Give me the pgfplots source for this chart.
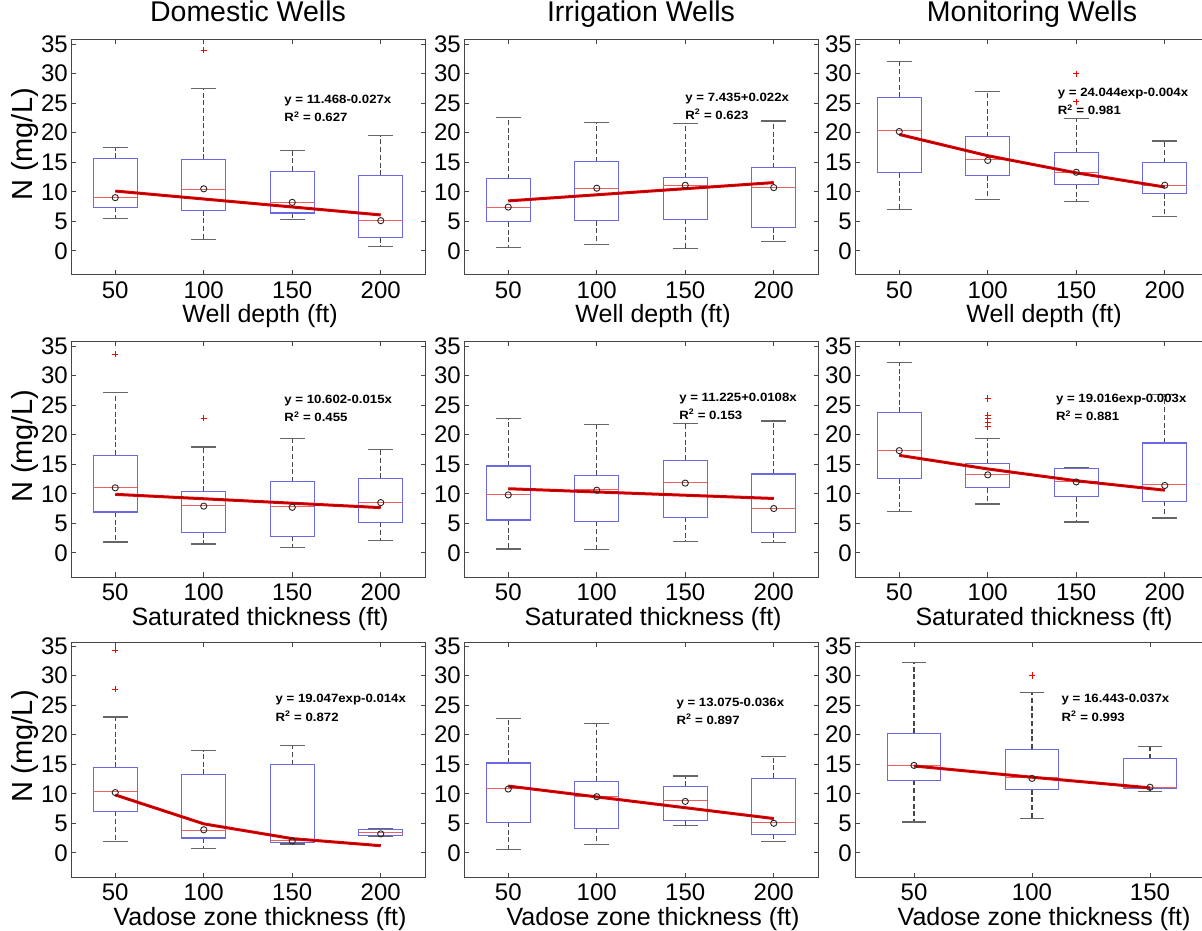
\documentclass[border=0pt]{standalone}
\usepackage{fontspec}
\setmainfont{Liberation Sans}
\newfontfamily\eqfam[FakeStretch=1.1]{Liberation Sans}
\usepackage{pgfplots}
\pgfplotsset{compat=1.18}
\usepgfplotslibrary{statistics}
\definecolor{boxcol}{RGB}{105,105,225}
\definecolor{medcol}{RGB}{235,95,95}
\definecolor{regcol}{RGB}{228,0,0}
\definecolor{axcol}{RGB}{70,70,70}
\newcommand\tickf{\fontsize{24pt}{24pt}\selectfont}
\newcommand\labf{\fontsize{25pt}{25pt}\selectfont}
\newcommand\ylabf{\fontsize{29pt}{29pt}\selectfont}
\newcommand\titf{\fontsize{28.5pt}{28.5pt}\selectfont}
\newcommand\eqf{\eqfam\bfseries\fontsize{12pt}{12pt}\selectfont}
\pgfplotsset{
  boxplot/draw/box/.code={%
    \draw[boxcol, line width=1.1pt]
      (boxplot box cs:\pgfplotsboxplotvalue{lower quartile},0) rectangle
      (boxplot box cs:\pgfplotsboxplotvalue{upper quartile},1);
  },
  boxplot/draw/median/.code={%
    \draw[medcol, line width=1pt]
      (boxplot box cs:\pgfplotsboxplotvalue{median},0) --
      (boxplot box cs:\pgfplotsboxplotvalue{median},1);
  },
  boxplot/draw/lower whisker/.code={%
    \draw[black!72, line width=1.3pt, dash pattern=on 5pt off 2.7pt]
      (boxplot box cs:\pgfplotsboxplotvalue{lower quartile},0.5) --
      (boxplot box cs:\pgfplotsboxplotvalue{lower whisker},0.5);
    \draw[black!60, line width=1.3pt]
      (boxplot whisker cs:\pgfplotsboxplotvalue{lower whisker},0) --
      (boxplot whisker cs:\pgfplotsboxplotvalue{lower whisker},1);
  },
  boxplot/draw/upper whisker/.code={%
    \draw[black!72, line width=1.3pt, dash pattern=on 5pt off 2.7pt]
      (boxplot box cs:\pgfplotsboxplotvalue{upper quartile},0.5) --
      (boxplot box cs:\pgfplotsboxplotvalue{upper whisker},0.5);
    \draw[black!60, line width=1.3pt]
      (boxplot whisker cs:\pgfplotsboxplotvalue{upper whisker},0) --
      (boxplot whisker cs:\pgfplotsboxplotvalue{upper whisker},1);
  },
  panel/.style={
    scale only axis, width=354pt, height=235pt, anchor=south west,
    xmin=0.5, xmax=4.5, ymin=-4.1, ymax=35.7,
    xtick={1,2,3,4}, xticklabels={50,100,150,200},
    ytick={0,5,10,15,20,25,30,35},
    tick align=inside, major tick length=4.5pt,
    axis line style={axcol, line width=1pt},
    tick style={axcol, line width=0.9pt},
    tick label style={font=\tickf, inner sep=0pt},
    xticklabel style={yshift=-6.5pt},
    yticklabel style={xshift=-3pt},
    /pgf/number format/assume math mode=true,
    xlabel style={font=\labf, at={(axis description cs:0.534,0)}, anchor=base, yshift=-48pt},
    ylabel style={font=\ylabf, at={(axis description cs:-0.109,0.555)}, anchor=base},
    title style={font=\titf, at={(axis description cs:0.5,1)}, anchor=base, yshift=12pt},
    boxplot/draw direction=y,
    boxplot/box extend=0.5, boxplot/whisker extend=0.28,
    clip=false,
  },
}
\newcommand\bx[6]{\addplot[boxplot prepared={draw position=#1, lower whisker=#2, lower quartile=#3, median=#4, upper quartile=#5, upper whisker=#6}] coordinates {};}
\newcommand\means[1]{\addplot[only marks, mark=o, mark size=3.1pt, mark options={black!85, line width=0.9pt}] coordinates {#1};}
\newcommand\outl[1]{\addplot[only marks, mark=+, mark size=3.2pt, red, line width=1pt] coordinates {#1};}
\newcommand\reg[1]{\addplot[regcol, line width=3pt] coordinates {#1};
  \addplot[red!45!black, line width=0.7pt, opacity=0.7] coordinates {#1};}
\newcommand\eq[5]{%
  \node[anchor=base west, inner sep=0pt, font=\eqf] at (axis cs:#1,#2) {#4};
  \node[anchor=base west, inner sep=0pt, font=\eqf] at (axis cs:#1,#3) {#5};}
\begin{document}
\begin{tikzpicture}
\path[use as bounding box, fill=white] (0,0) rectangle (1202pt,930pt);
% ---------------- Row 1 ----------------
\begin{axis}[panel, at={(71pt,655pt)}, title={Domestic Wells}, xlabel={Well depth (ft)}, ylabel={N (mg/L)}]
\bx{1}{5.5}{7.35}{9.0}{15.65}{17.5}
\bx{2}{1.9}{6.8}{10.4}{15.5}{27.5}
\bx{3}{5.35}{6.4}{8.25}{13.5}{17.0}
\bx{4}{0.75}{2.2}{5.1}{12.8}{19.5}
\outl{(2,34.0)}
\reg{(1,10.12)(4,6.07)}
\means{(1,9.0)(2,10.5)(3,8.2)(4,5.1)}
\eq{2.91}{25.0}{21.9}{y = 11.468-0.027x}{R\textsuperscript{2} = 0.627}
\end{axis}
\begin{axis}[panel, at={(464pt,655pt)}, title={Irrigation Wells}, xlabel={Well depth (ft)}]
\bx{1}{0.5}{4.9}{7.4}{12.2}{22.6}
\bx{2}{1.1}{5.1}{10.6}{15.1}{21.7}
\bx{3}{0.4}{5.3}{11.0}{12.4}{21.6}
\bx{4}{1.6}{3.9}{10.75}{14.1}{22.0}
\reg{(1,8.45)(4,11.55)}
\means{(1,7.4)(2,10.6)(3,11.1)(4,10.7)}
\eq{3.0}{25.2}{22.3}{y = 7.435+0.022x}{R\textsuperscript{2} = 0.623}
\end{axis}
\begin{axis}[panel, at={(855pt,655pt)}, title={Monitoring Wells}, xlabel={Well depth (ft)}]
\bx{1}{7.0}{13.2}{20.3}{26.0}{32.1}
\bx{2}{8.7}{12.7}{15.4}{19.3}{27.0}
\bx{3}{8.3}{11.3}{13.3}{16.6}{22.4}
\bx{4}{5.8}{9.7}{11.1}{14.95}{18.6}
\outl{(3,29.95)(3,25.2)}
\reg{(1,19.7)(2,16.1)(3,13.2)(4,10.8)}
\means{(1,20.2)(2,15.3)(3,13.3)(4,11.1)}
\eq{2.79}{26.2}{23.0}{y = 24.044exp-0.004x}{R\textsuperscript{2} = 0.981}
\end{axis}
% ---------------- Row 2 ----------------
\begin{axis}[panel, at={(71pt,353pt)}, xlabel={Saturated thickness (ft)}, ylabel={N (mg/L)}]
\bx{1}{1.85}{6.9}{11.05}{16.55}{27.2}
\bx{2}{1.5}{3.4}{7.95}{10.4}{17.9}
\bx{3}{0.85}{2.8}{7.8}{12.0}{19.35}
\bx{4}{2.1}{5.15}{8.5}{12.6}{17.45}
\outl{(1,33.65)(2,22.8)}
\reg{(1,9.9)(4,7.65)}
\means{(1,11.0)(2,7.9)(3,7.7)(4,8.5)}
\eq{2.91}{25.2}{22.2}{y = 10.602-0.015x}{R\textsuperscript{2} = 0.455}
\end{axis}
\begin{axis}[panel, at={(464pt,353pt)}, xlabel={Saturated thickness (ft)}]
\bx{1}{0.65}{5.55}{9.8}{14.7}{22.7}
\bx{2}{0.5}{5.3}{10.65}{13.1}{21.7}
\bx{3}{1.95}{6.0}{11.85}{15.7}{21.9}
\bx{4}{1.7}{3.4}{7.55}{13.35}{22.3}
\reg{(1,10.85)(4,9.2)}
\means{(1,9.8)(2,10.6)(3,11.8)(4,7.5)}
\eq{2.93}{25.7}{22.6}{y = 11.225+0.0108x}{R\textsuperscript{2} = 0.153}
\end{axis}
\begin{axis}[panel, at={(855pt,353pt)}, xlabel={Saturated thickness (ft)}]
\bx{1}{7.05}{12.55}{17.4}{23.8}{32.2}
\bx{2}{8.25}{11.0}{13.3}{15.1}{19.4}
\bx{3}{5.2}{9.5}{12.1}{14.25}{14.45}
\bx{4}{5.9}{8.75}{11.5}{18.6}{26.8}
\outl{(2,26.1)(2,23.3)(2,22.7)(2,22.1)(2,21.4)}
\reg{(1,16.5)(2,14.2)(3,12.2)(4,10.6)}
\means{(1,17.3)(2,13.2)(3,12.0)(4,11.4)}
\eq{2.77}{25.5}{22.4}{y = 19.016exp-0.003x}{R\textsuperscript{2} = 0.881}
\end{axis}
% ---------------- Row 3 ----------------
\begin{axis}[panel, at={(71pt,53pt)}, xlabel={Vadose zone thickness (ft)}, ylabel={N (mg/L)}]
\bx{1}{1.9}{7.0}{10.3}{14.45}{23.0}
\bx{2}{0.75}{2.5}{3.8}{13.3}{17.3}
\bx{3}{1.5}{1.8}{2.1}{14.95}{18.2}
\bx{4}{2.85}{3.0}{3.4}{3.9}{4.05}
\outl{(1,34.3)(1,27.7)}
\reg{(1,9.8)(2,4.9)(3,2.4)(4,1.2)}
\means{(1,10.2)(2,3.9)(3,2.0)(4,3.2)}
\eq{2.81}{25.4}{22.3}{y = 19.047exp-0.014x}{R\textsuperscript{2} = 0.872}
\end{axis}
\begin{axis}[panel, at={(464pt,53pt)}, xlabel={Vadose zone thickness (ft)}]
\bx{1}{0.5}{5.2}{10.9}{15.2}{22.7}
\bx{2}{1.35}{4.15}{9.55}{12.15}{21.9}
\bx{3}{4.65}{5.5}{8.8}{11.25}{13.0}
\bx{4}{1.9}{3.15}{5.05}{12.65}{16.25}
\reg{(1,11.3)(4,5.8)}
\means{(1,10.8)(2,9.5)(3,8.7)(4,5.0)}
\eq{2.90}{24.7}{21.8}{y = 13.075-0.036x}{R\textsuperscript{2} = 0.897}
\end{axis}
\begin{axis}[panel, at={(855pt,53pt)}, xlabel={Vadose zone thickness (ft)},
  xmin=0.5, xmax=3.5, xtick={1,2,3}, xticklabels={50,100,150},
  boxplot/box extend=0.45, boxplot/whisker extend=0.2]
\bx{1}{5.2}{12.25}{14.85}{20.25}{32.2}
\bx{2}{5.85}{10.7}{12.7}{17.55}{27.1}
\bx{3}{10.35}{10.85}{11.1}{15.9}{18.0}
\outl{(2,30.05)}
\reg{(1,14.7)(2,12.8)(3,11.0)}
\means{(1,14.8)(2,12.6)(3,11.1)}
\eq{2.25}{25.4}{22.3}{y = 16.443-0.037x}{R\textsuperscript{2} = 0.993}
\end{axis}
\end{tikzpicture}
\end{document}
